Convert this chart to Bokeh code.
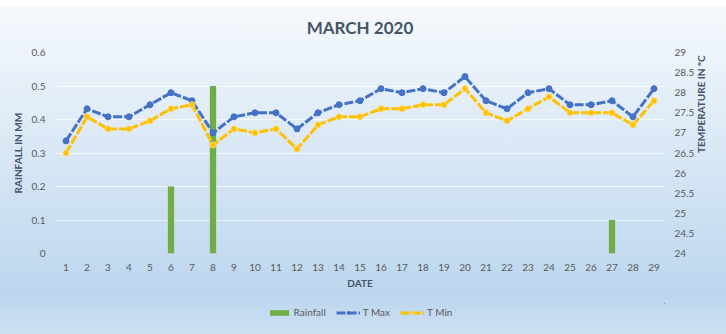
import math
from bokeh.plotting import figure
from bokeh.layouts import column
from bokeh.models import Range1d, LinearAxis, Legend, LegendItem, FixedTicker
from bokeh.embed import file_html
from bokeh.resources import INLINE

days = list(range(1, 30))
rainfall = [0, 0, 0, 0, 0, 0.2, 0, 0.5, 0, 0, 0, 0, 0, 0, 0, 0, 0, 0, 0, 0,
            0, 0, 0, 0, 0, 0, 0.1, 0, 0]
t_max = [26.8, 27.6, 27.4, 27.4, 27.7, 28.0, 27.8, 27.0, 27.4, 27.5, 27.5, 27.1,
         27.5, 27.7, 27.8, 28.1, 28.0, 28.1, 28.0, 28.4, 27.8, 27.6, 28.0, 28.1,
         27.7, 27.7, 27.8, 27.4, 28.1]
t_min = [26.5, 27.4, 27.1, 27.1, 27.3, 27.6, 27.7, 26.7, 27.1, 27.0, 27.1, 26.6,
         27.2, 27.4, 27.4, 27.6, 27.6, 27.7, 27.7, 28.1, 27.5, 27.3, 27.6, 27.9,
         27.5, 27.5, 27.5, 27.2, 27.8]
rain_ticks = [0, 0.1, 0.2, 0.3, 0.4, 0.5, 0.6]
rain_tick_labels = ["0", "0.1", "0.2", "0.3", "0.4", "0.5", "0.6"]
temp_ticks = [24, 24.5, 25, 25.5, 26, 26.5, 27, 27.5, 28, 28.5, 29]
temp_tick_labels = ["24", "24.5", "25", "25.5", "26", "26.5", "27", "27.5", "28", "28.5", "29"]
series_names = ["Rainfall", "T Max", "T Min"]

FONT = "Lato"
TXT = "#595959"
GREEN, BLUE, GOLD = "#70AD47", "#4472C4", "#FFC000"

p = figure(frame_width=609, frame_height=201, output_backend="svg", toolbar_location=None,
           x_range=Range1d(0.5, 29.5), y_range=Range1d(0, 0.6),
           min_border_left=55, min_border_right=62, min_border_top=52, min_border_bottom=50)
p.extra_y_ranges = {"temp": Range1d(24, 29)}
p.background_fill_color = None
p.border_fill_color = None
p.outline_line_color = None

p.title.text = "MARCH 2020"
p.title.align = "center"
p.title.text_font = FONT
p.title.text_font_size = "17px"
p.title.text_font_style = "bold"
p.title.text_color = "#44546A"
p.title.standoff = 29

p.xgrid.grid_line_color = None
p.ygrid.grid_line_color = "white"
p.ygrid.grid_line_alpha = 0.7
p.ygrid.ticker = FixedTicker(ticks=rain_ticks)

p.vbar(x=days, top=rainfall, width=0.3, fill_color=GREEN, line_color=None)
p.line(days, t_max, y_range_name="temp", color=BLUE, line_width=3, line_dash="9 2")
p.scatter(days, t_max, y_range_name="temp", size=6, fill_color=BLUE, line_color=BLUE)
p.line(days, t_min, y_range_name="temp", color=GOLD, line_width=3, line_dash="9 2")
p.scatter(days, t_min, y_range_name="temp", size=6, fill_color=GOLD, line_color="#FFD966")

def style_axis(ax):
    ax.axis_line_color = None
    ax.major_tick_line_color = None
    ax.minor_tick_line_color = None
    ax.major_tick_out = 0
    ax.major_tick_in = 0
    ax.minor_tick_out = 0
    ax.minor_tick_in = 0
    ax.major_label_text_font = FONT
    ax.major_label_text_font_size = "10px"
    ax.major_label_text_color = TXT
    ax.axis_label_text_font = FONT
    ax.axis_label_text_font_size = "10px"
    ax.axis_label_text_font_style = "bold"
    ax.axis_label_text_color = "#44546A"
    ax.major_label_standoff = 10

xa = p.xaxis[0]
style_axis(xa)
xa.ticker = FixedTicker(ticks=days)
xa.axis_label = "DATE"
xa.axis_label_standoff = 3

ya = p.yaxis[0]
style_axis(ya)
ya.ticker = FixedTicker(ticks=rain_ticks)
ya.major_label_overrides = {t: l for t, l in zip(rain_ticks, rain_tick_labels)}
ya.axis_label = "RAINFALL IN MM"
ya.axis_label_standoff = 5

ra = LinearAxis(y_range_name="temp")
style_axis(ra)
ra.ticker = FixedTicker(ticks=temp_ticks)
ra.major_label_overrides = {t: l for t, l in zip(temp_ticks, temp_tick_labels)}
ra.axis_label = "TEMPERATURE IN ºC"
ra.axis_label_standoff = 4
ra.axis_label_orientation = math.pi / 2
p.add_layout(ra, "right")

# legend strip below the chart: same series drawn in a figure whose ranges hide them,
# so only the legend entries show
lg = figure(width=726, height=31, output_backend="svg", toolbar_location=None,
            x_range=Range1d(-2000, -1999), y_range=Range1d(-2000, -1999),
            x_axis_type=None, y_axis_type=None,
            min_border_left=0, min_border_right=0, min_border_top=0, min_border_bottom=0)
lg.background_fill_color = None
lg.border_fill_color = None
lg.outline_line_color = None
lg.grid.visible = False
r_bar = lg.vbar(x=days, top=rainfall, width=0.3, fill_color=GREEN, line_color=None)
r_l1 = lg.line(days, t_max, color=BLUE, line_width=3, line_dash="9 2")
r_s1 = lg.scatter(days, t_max, size=6, fill_color=BLUE, line_color=BLUE)
r_l2 = lg.line(days, t_min, color=GOLD, line_width=3, line_dash="9 2")
r_s2 = lg.scatter(days, t_min, size=6, fill_color=GOLD, line_color="#FFD966")

legend = Legend(items=[LegendItem(label=series_names[0], renderers=[r_bar]),
                       LegendItem(label=series_names[1], renderers=[r_l1, r_s1]),
                       LegendItem(label=series_names[2], renderers=[r_l2, r_s2])],
                orientation="horizontal", location="top_center",
                background_fill_alpha=0, border_line_color=None,
                label_text_font=FONT, label_text_font_size="10px", label_text_color=TXT,
                glyph_width=24, glyph_height=7, label_standoff=3, spacing=10,
                padding=2, margin=3)
lg.add_layout(legend, "center")

layout = column(p, lg, spacing=0)
layout.styles = {"background": "linear-gradient(to bottom, #ffffff 0px, #ffffff 6px, #f6f9fd 7px, #bcd6ee 295px, #cddff2 334px)"}

open("out.html", "w").write(file_html(layout, INLINE))
